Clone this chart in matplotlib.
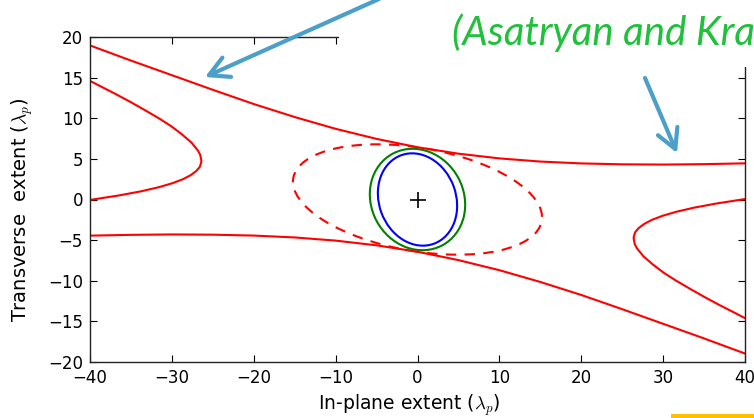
import matplotlib
matplotlib.use("Agg")

import matplotlib.pyplot as plt
from matplotlib.patches import Ellipse, Rectangle

# ── Data ────────────────────────────────────────────────────── #
# outer hyperbola (upper / lower branch)
upper_x = [-40, -35, -30, -25, -20, -15, -10, -5, 0, 5, 10, 15, 20, 25, 30, 35, 40]
upper_y = [18.96, 17.1, 15.3, 13.5, 11.75, 10.15, 8.70, 7.46, 6.43, 5.64,
           5.06, 4.67, 4.44, 4.33, 4.3, 4.35, 4.45]
lower_x = [-40, -35, -30, -25, -20, -15, -10, -5, 0, 5, 10, 15, 20, 25, 30, 35, 40]
lower_y = [-4.45, -4.35, -4.3, -4.33, -4.44, -4.67, -5.06, -5.64, -6.43, -7.46,
           -8.70, -10.15, -11.75, -13.5, -15.3, -17.1, -18.96]

# conjugate hyperbola (left / right branch)
left_x = [-40.0, -38.85, -36.9, -35.05, -33.3, -31.6, -30.05, -28.75, -27.6, -26.8,
          -26.54, -26.4, -26.43, -26.6, -27.03, -27.7, -28.64, -29.95, -31.65,
          -33.8, -36.47, -39.65, -40.0]
left_y = [14.6, 14, 13, 12, 11, 10, 9, 8, 7, 6, 5.5, 4.8, 4.5, 4, 3.5, 3, 2.5, 2,
          1.5, 1, 0.5, 0, -0.05]
right_x = [40.0, 38.85, 36.9, 35.05, 33.3, 31.6, 30.05, 28.75, 27.6, 26.8,
           26.54, 26.4, 26.43, 26.6, 27.03, 27.7, 28.64, 29.95, 31.65,
           33.8, 36.47, 39.65, 40.0]
right_y = [-14.6, -14, -13, -12, -11, -10, -9, -8, -7, -6, -5.5, -4.8, -4.5, -4,
           -3.5, -3, -2.5, -2, -1.5, -1, -0.5, 0, 0.05]

# ellipses: (width, height, angle in degrees), all centred on the origin
dashed_ell = [30.8, 12.7, -9.9]
green_ell = [12.8, 11.3, -62.0]
blue_ell = [11.6, 9.4, -70.0]
centre = [0.0, 0.0]

x_ticks = [-40, -30, -20, -10, 0, 10, 20, 30, 40]
y_ticks = [-20, -15, -10, -5, 0, 5, 10, 15, 20]

ANNOT_TEXT = "(Asatryan and Kra"
ARROW_BLUE = "#4B9FC9"
TEXT_GREEN = "#1FC03A"
W, H = 754, 418

plt.rcParams["mathtext.fontset"] = "cm"

fig = plt.figure(figsize=(W / 100, H / 100), dpi=100, facecolor="white")
ax = fig.add_axes([90 / W, 1 - 362 / H, 655 / W, 325 / H])

ax.plot(upper_x, upper_y, color="red", lw=1.5)
ax.plot(lower_x, lower_y, color="red", lw=1.5)
ax.plot(left_x, left_y, color="red", lw=1.5)
ax.plot(right_x, right_y, color="red", lw=1.5)

ax.add_patch(Ellipse(centre, dashed_ell[0], dashed_ell[1], angle=dashed_ell[2],
                     fill=False, ec="red", lw=1.5, ls=(0, (5, 4))))
ax.add_patch(Ellipse(centre, green_ell[0], green_ell[1], angle=green_ell[2],
                     fill=False, ec="green", lw=1.5))
ax.add_patch(Ellipse(centre, blue_ell[0], blue_ell[1], angle=blue_ell[2],
                     fill=False, ec="blue", lw=1.5))
ax.plot(centre[0], centre[1], marker="+", color="black", ms=12, mew=1.2)

ax.set_xlim(-40, 40)
ax.set_ylim(-20, 20)
ax.set_xticks(x_ticks)
ax.set_yticks(y_ticks)
ax.tick_params(direction="in", length=5, width=0.8, top=True, right=True,
               labelsize=12, pad=5)
for spine in ax.spines.values():
    spine.set_linewidth(1.0)
    spine.set_edgecolor("#222222")
ax.set_xlabel(r"In-plane extent ($\lambda_p$)", fontsize=13.5)
ax.set_ylabel(r"Transverse  extent ($\lambda_p$)", fontsize=14)
ax.xaxis.set_label_coords(0.487, -0.093)
ax.yaxis.set_label_coords(-0.084, 0.47)

# ── Slide overlays: white box, arrows, citation text ─────────── #
fig.add_artist(Rectangle((339 / W, 1 - 67 / H), (W - 339) / W, 67 / H,
                         transform=fig.transFigure, fc="white", ec="none", zorder=3))
fig.add_artist(Rectangle((671 / W, 0), (W - 671) / W, 4 / H,
                         transform=fig.transFigure, fc="#FFC000", ec="none", zorder=3))

arrow_kw = dict(arrowstyle="->,head_length=0.7,head_width=0.38", color=ARROW_BLUE,
                lw=3, shrinkA=0, shrinkB=0, mutation_scale=20)
fig.add_artist(plt.Annotation("", xy=(205, H - 77), xytext=(379, H + 1),
                              xycoords="figure pixels", textcoords="figure pixels",
                              arrowprops=arrow_kw, zorder=4))
fig.add_artist(plt.Annotation("", xy=(677, H - 153), xytext=(645, H - 78),
                              xycoords="figure pixels", textcoords="figure pixels",
                              arrowprops=arrow_kw, zorder=4))

fig.text(452 / W, 1 - 45 / H, ANNOT_TEXT, color=TEXT_GREEN, fontsize=29,
         family="Lato", style="italic", ha="left", va="baseline", zorder=5)

fig.savefig("out.png", dpi=100, facecolor="white")
